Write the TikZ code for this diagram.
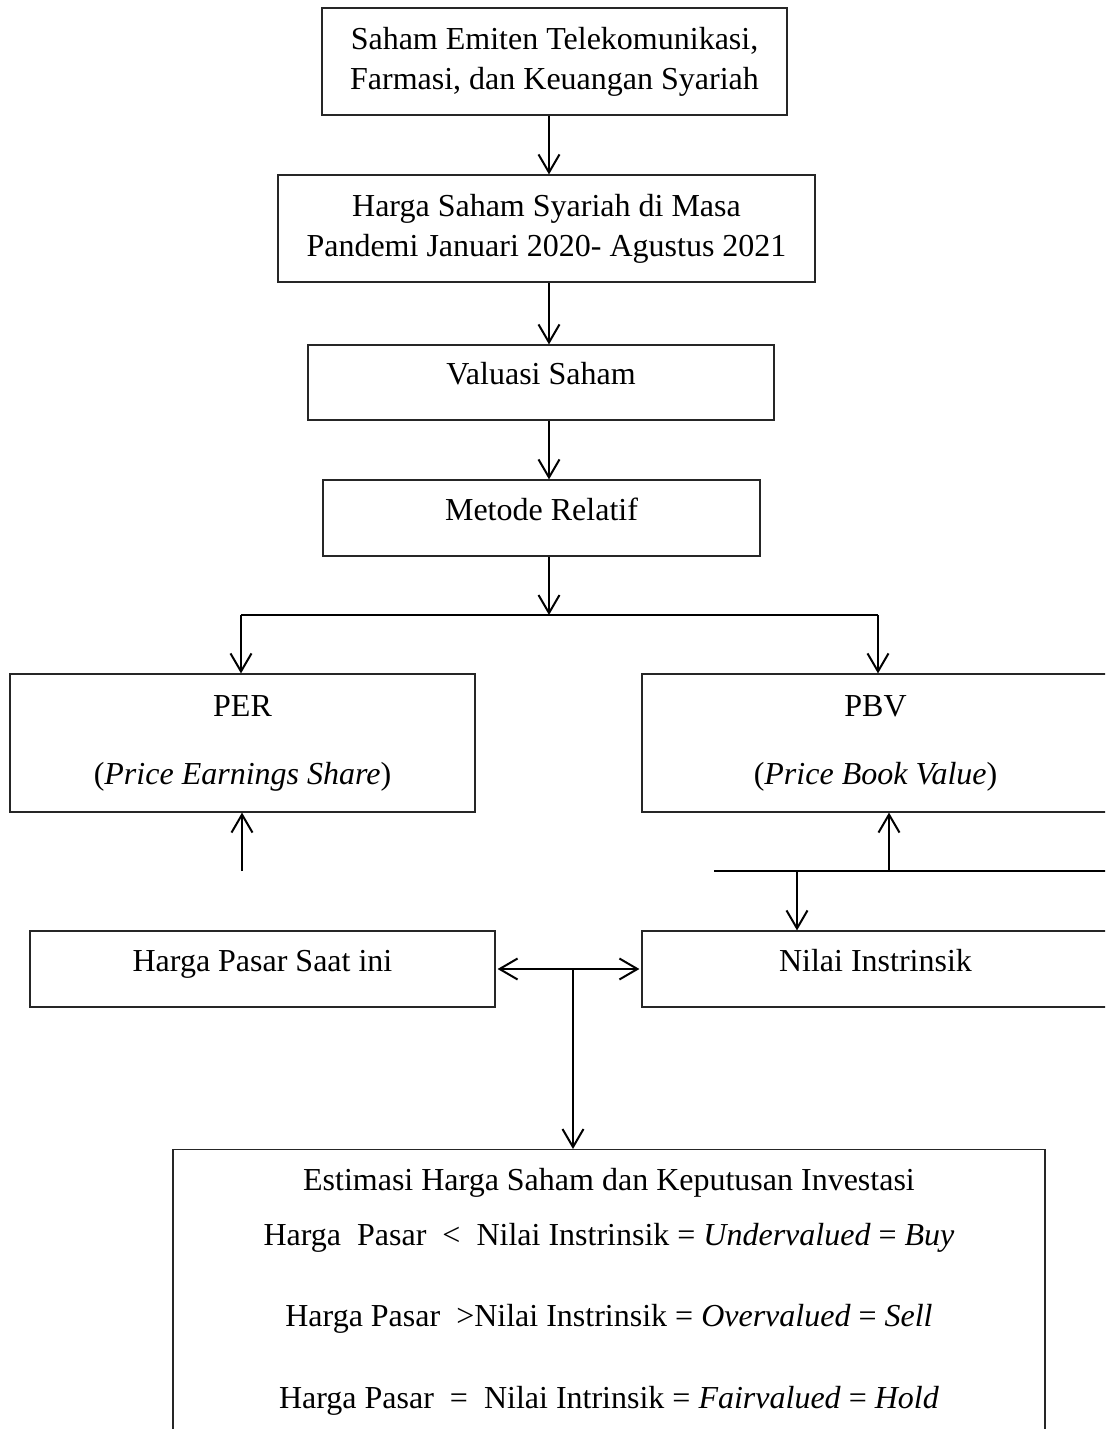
\documentclass[tikz,border=0pt]{standalone}
\usepackage{fontspec}
\setmainfont{Liberation Serif}
\usepackage{tikz}
\usetikzlibrary{arrows.meta,positioning,calc}

\tikzset{
	kotak/.style={draw=black!85, line width=0.6pt, inner sep=0pt, align=center},
	satubaris/.style={text height=11pt, text depth=9pt},
	panah/.style={->, line width=1pt},
	panahdua/.style={<->, line width=1pt, shorten <=1pt, shorten >=1pt}
}

\begin{document}
\begin{tikzpicture}[
		x=0.5pt,
		y=-0.5pt,
		>={Straight Barb[length=9pt,width=10.5pt]},
		font=\fontsize{16}{20}\selectfont
	]

	\useasboundingbox (0,0) rectangle (1105,1429);
	\clip (0,0) rectangle (1105,1429);

	% kotak utama
	\node[kotak, minimum width=232.5pt, minimum height=53.5pt] (saham) at (554.5,61.5)
		{Saham Emiten Telekomunikasi,\\Farmasi, dan Keuangan Syariah};
	\node[kotak, minimum width=268.5pt, minimum height=53.5pt] (harga) at (546.5,228.5)
		{Harga Saham Syariah di Masa\\Pandemi Januari 2020- Agustus 2021};
	\node[kotak, satubaris, minimum width=233pt, minimum height=37.5pt] (valuasi) at (541,382.5)
		{Valuasi Saham};
	\node[kotak, satubaris, minimum width=218.5pt, minimum height=38pt] (metode) at (541.5,518)
		{Metode Relatif};

	\node[kotak, minimum width=232.5pt, minimum height=69pt] (per) at (242.5,743)
		{PER\\[14pt](\textit{Price Earnings Share})};
	\node[kotak, minimum width=233.5pt, minimum height=69pt] (pbv) at (875.5,743)
		{PBV\\[14pt](\textit{Price Book Value})};

	\node[kotak, satubaris, minimum width=232.5pt, minimum height=38pt] (pasar) at (262.5,969)
		{Harga Pasar Saat ini};
	\node[kotak, satubaris, minimum width=233.5pt, minimum height=38pt] (nilai) at (875.5,969)
		{Nilai Instrinsik};

	\node[kotak, anchor=north, minimum width=436pt, minimum height=142pt] (keputusan) at (609,1149)
		{Estimasi Harga Saham dan Keputusan Investasi\\[7.5pt]
		 Harga\ \ Pasar\ \ <\ \ Nilai Instrinsik = \textit{Undervalued} = \textit{Buy}\\[20.5pt]
		 Harga Pasar\ \ >Nilai Instrinsik = \textit{Overvalued} = \textit{Sell}\\[21pt]
		 Harga Pasar\ \ =\ \ Nilai Intrinsik = \textit{Fairvalued} = \textit{Hold}};

	% titik bantu
	\coordinate (poros) at (549,0);
	\coordinate (cabang) at (549,615);
	\coordinate (cabangkiri) at (241,615);
	\coordinate (cabangkanan) at (878,615);
	\coordinate (perbawah) at (242,871);
	\coordinate (garisawal) at (714,871);
	\coordinate (garisakhir) at (1110,871);
	\coordinate (pbvnaik) at (889,871);
	\coordinate (nilaiturun) at (797,871);
	\coordinate (tengah) at (573,969);

	% alur
	\draw[panah] (saham.south -| poros) -- (harga.north -| poros);
	\draw[panah] (harga.south -| poros) -- (valuasi.north -| poros);
	\draw[panah] (valuasi.south -| poros) -- (metode.north -| poros);
	\draw[panah] (metode.south -| poros) -- (cabang);
	\draw[line width=1pt] (cabangkiri) -- (cabangkanan);
	\draw[panah] (cabangkiri) -- (cabangkiri |- per.north);
	\draw[panah] (cabangkanan) -- (cabangkanan |- pbv.north);

	\draw[panah] (perbawah) -- (perbawah |- per.south);
	\draw[line width=1pt] (garisawal) -- (garisakhir);
	\draw[panah] (pbvnaik) -- (pbvnaik |- pbv.south);
	\draw[panah] (nilaiturun) -- (nilaiturun |- nilai.north);

	\draw[panahdua] (pasar.east) -- (nilai.west);
	\draw[panah] (tengah) -- (tengah |- keputusan.north);

\end{tikzpicture}
\end{document}
